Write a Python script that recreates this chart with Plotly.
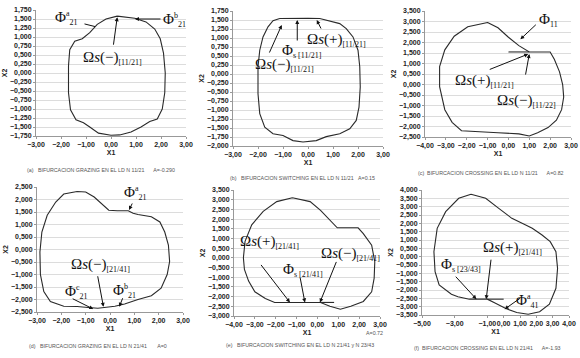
import plotly.graph_objects as go

W, H = 580, 358

# ---------------- data ----------------
a_x = [0.25, 0.6, 0.95, 1.4, 1.75, 1.97, 2.1, 2.17, 2.15, 2.05, 1.85, 1.55, 1.2, 0.8, 0.35, 0.0,
       -0.5, -0.85, -1.1, -1.4, -1.62, -1.7, -1.7, -1.65, -1.45, -1.15, -0.85, -0.55, -0.2, 0.25]
a_y = [1.58, 1.55, 1.52, 1.42, 1.22, 0.95, 0.55, 0.0, -0.55, -1.0, -1.28, -1.35, -1.5, -1.64, -1.72, -1.73,
       -1.67, -1.5, -1.38, -1.3, -1.02, -0.55, 0.2, 0.65, 0.88, 0.95, 1.12, 1.35, 1.5, 1.58]

b_x = [-1.13, -0.5, 0.0, 0.47, 0.87, 1.27, 1.53, 1.8, 2.0, 2.07, 2.09, 2.04, 1.93, 1.67, 1.27, 0.73,
       0.33, -0.2, -0.6, -1.0, -1.4, -1.73, -1.93, -2.0, -2.0, -1.93, -1.8, -1.6, -1.4, -1.13]
b_y = [1.54, 1.55, 1.55, 1.54, 1.48, 1.40, 1.26, 1.03, 0.66, 0.2, -0.36, -0.92, -1.29, -1.52, -1.66, -1.74,
       -1.85, -1.89, -1.85, -1.71, -1.66, -1.48, -1.1, -0.55, 0.2, 0.66, 1.03, 1.31, 1.48, 1.54]

c_x = [-1.0, -0.5, 0.0, 0.5, 1.0, 2.0, 2.2, 2.45, 2.6, 2.65, 2.55, 2.3, 1.9, 1.4, 1.0, 0.5, -0.5, -1.5,
       -2.25, -2.7, -3.05, -3.3, -3.3, -3.05, -2.6, -1.95, -1.0]
c_y = [2.95, 2.7, 2.25, 1.85, 1.55, 1.55, 1.2, 0.6, 0.0, -0.6, -1.2, -1.7, -2.05, -2.3, -2.45, -2.35, -2.3, -2.25,
       -2.2, -1.8, -1.2, -0.1, 0.85, 1.65, 2.3, 2.75, 2.95]
c_seg_x = [0.0, 1.0]
c_seg_y = [1.55, 1.55]

d_x = [-1.35, -1.0, -0.65, -0.3, -0.05, 0.3, 0.75, 0.95, 1.15, 1.7, 2.05, 2.25, 2.4, 2.45, 2.35, 2.1, 1.7,
       1.15, 0.6, 0.2, -0.25, -0.5, -0.9, -1.35, -1.9, -2.45, -2.72, -2.86, -2.88, -2.8, -2.58, -2.23, -1.9, -1.35]
d_y = [2.32, 2.3, 2.1, 1.77, 1.57, 1.55, 1.55, 1.45, 1.4, 1.31, 1.1, 0.7, 0.18, -0.48, -1.0, -1.55, -1.85,
       -2.0, -2.18, -2.27, -2.33, -2.35, -2.32, -2.28, -2.27, -2.08, -1.68, -1.0, -0.1, 0.7, 1.37, 1.9, 2.22, 2.32]

e_x = [-1.2, -0.35, 0.15, 0.6, 0.95, 1.95, 2.2, 2.6, 2.75, 2.72, 2.6, 2.2, 1.6, 1.1, 0.6, 0.15, -0.6, -1.3,
       -2.05, -2.5, -3.0, -3.3, -3.5, -3.55, -3.47, -3.15, -2.6, -1.95, -1.2]
e_y = [3.1, 2.9, 2.45, 1.95, 1.55, 1.55, 1.25, 0.65, -0.2, -1.05, -1.75, -2.25, -2.5, -2.65, -2.5, -2.3, -2.3, -2.3,
       -2.3, -2.1, -1.75, -1.2, -0.6, 0.0, 0.85, 1.7, 2.4, 2.9, 3.1]
e_seg_x = [0.15, 0.8]
e_seg_y = [-2.3, -2.3]

f_x = [-2.0, -1.1, -0.3, 0.5, 1.35, 1.75, 2.35, 2.85, 3.2, 3.3, 3.2, 2.8, 2.2, 1.5, 0.8, 0.1, -0.5, -1.0,
       -1.6, -2.1, -2.8, -3.2, -3.95, -4.2, -4.27, -4.07, -3.55, -2.75, -2.0]
f_y = [3.75, 3.5, 2.9, 2.3, 1.9, 1.7, 1.3, 0.9, 0.3, -0.7, -1.9, -2.85, -3.3, -3.45, -3.35, -3.1, -2.8, -2.55,
       -2.55, -2.55, -2.4, -2.25, -1.7, -0.9, 0.3, 1.7, 2.7, 3.5, 3.75]
f_seg_x = [-1.0, 0.0]
f_seg_y = [-2.55, -2.55]

x_ranges = {"a": [-3, 3], "b": [-3, 3], "c": [-4, 3], "d": [-3, 3], "e": [-4, 3], "f": [-5, 4]}
y_ranges = {"a": [-1.75, 1.75], "b": [-2.0, 1.75], "c": [-2.5, 3.5], "d": [-2.5, 2.5], "e": [-3.0, 3.5], "f": [-3.5, 4.0]}
x_tickvals = {
    "a": [-3, -2, -1, 0, 1, 2, 3], "b": [-3, -2, -1, 0, 1, 2, 3], "c": [-4, -3, -2, -1, 0, 1, 2, 3],
    "d": [-3, -2, -1, 0, 1, 2, 3], "e": [-4, -3, -2, -1, 0, 1, 2, 3], "f": [-5, -3, -1, 0, 1, 2, 3, 4],
}
y_dtick = {"a": 0.25, "b": 0.25, "c": 0.5, "d": 0.5, "e": 0.5, "f": 0.5}

captions = {
    "a": "(a)\u00a0\u00a0\u00a0BIFURCACION GRAZING EN EL LD N 11/21\u00a0\u00a0\u00a0\u00a0\u00a0\u00a0A=-0.290",
    "b": "(b)\u00a0\u00a0\u00a0BIFURCACION SWITCHING EN EL LD N 11/21\u00a0\u00a0\u00a0A=0.15",
    "c": "(c)\u00a0\u00a0BIFURCACION CROSSING EN EL LD N 11/21\u00a0\u00a0\u00a0\u00a0\u00a0\u00a0A=0.82",
    "d": "(d)\u00a0\u00a0\u00a0BIFURCACION GRAZING EN EL LD N 21/41\u00a0\u00a0\u00a0\u00a0\u00a0\u00a0\u00a0A=0",
    "e": "(e)\u00a0\u00a0\u00a0BIFURCACION SWITCHING EN EL LD N 21/41 y N 23/43",
    "f": "(f)\u00a0\u00a0BIFURCACION CROSSING EN EL LD N 21/41\u00a0\u00a0\u00a0\u00a0\u00a0\u00a0A=-1.93",
}

# ---------------- layout (pixel boxes) ----------------
boxes = {  # x0, x1, y0(top), y1(bottom) in pixels
    "a": (36, 186, 10, 136),
    "b": (233, 383, 11, 146),
    "c": (425, 571, 11, 137),
    "d": (37, 183, 187, 312),
    "e": (234, 380, 190, 316),
    "f": (422, 569, 190, 315),
}
caption_pos = {"a": (101, 170), "b": (302, 178), "c": (491, 173),
               "d": (98, 346), "e": (300, 345), "f": (487, 348)}

SUBF = 8


def om(sign, sub):
    return ("Ω<i>s</i>(%s)<sub><span style='font-size:%dpx'>%s</span></sub>" % (sign, SUBF, sub))


def phi(sup, sub):
    s = "Φ"
    if sup:
        s += "<sup><span style='font-size:%dpx'>%s</span></sup>" % (SUBF, sup)
    s += "<sub><span style='font-size:%dpx'>%s</span></sub>" % (SUBF, sub)
    return s


labels = {
    "a": [(phi("a", "21"), 66, 18), (phi("b", "21"), 174, 20), (om("−", "[11/21]"), 112, 58)],
    "b": [(phi(None, "s [11/21]"), 302, 51), (om("+", "[11/21]"), 336, 40), (om("−", "[11/21]"), 284, 65)],
    "c": [(phi(None, "11"), 548, 20), (om("+", "[11/21]"), 484, 81), (om("−", "[11/22]"), 526, 101)],
    "d": [(phi("a", "21"), 135, 193), (om("−", "[21/41]"), 100, 265), (phi("c", "21"), 76, 292),
          (phi("b", "21"), 124, 291)],
    "e": [(om("+", "[21/41]"), 269, 242), (om("−", "[21/41]"), 350, 254), (phi(None, "s [21/41]"), 303, 270)],
    "f": [(om("+", "[21/41]"), 512, 248), (phi(None, "s [23/43]"), 461, 265), (phi("a", "41"), 527, 301)],
}
# arrows: tip (data x, y), tail offset (px dx, dy), head style
arrows = {
    "a": [(0.25, 1.55, -4, 29, 2), (0.96, 1.5, 27, 0, 2), (-0.64, 1.29, -12, -3, 0)],
    "b": [(-0.43, 1.5, 0, 22, 2), (0.35, 1.5, 5, 10, 2), (-1.05, 1.36, -13, 29, 2)],
    "c": [(0.57, 2.15, 17, -16, 2), (0.95, 1.45, -40, 16, 2), (1.0, 1.45, -4, 22, 2)],
    "d": [(0.78, 1.58, 4, -8, 2), (-0.27, -2.29, -6, -32, 2), (-0.69, -2.38, -22, -11, 2), (0.38, -2.29, 4, -10, 2)],
    "e": [(-1.32, -2.3, -30, -39, 2), (-0.6, -2.3, -5, -26, 2), (0.12, -2.3, 17, -42, 2)],
    "f": [(-1.07, -2.55, 5, -41, 2), (-1.67, -2.55, -22, -24, 2), (0.06, -3.15, 17, -12, 2)],
}

curves = {
    "a": [(a_x, a_y)], "b": [(b_x, b_y)], "c": [(c_x, c_y), (c_seg_x, c_seg_y)],
    "d": [(d_x, d_y)], "e": [(e_x, e_y), (e_seg_x, e_seg_y)], "f": [(f_x, f_y), (f_seg_x, f_seg_y)],
}

fig = go.Figure()
layout = dict(
    width=W, height=H, margin=dict(l=0, r=0, t=0, b=0, autoexpand=False),
    paper_bgcolor="white", plot_bgcolor="white", showlegend=False,
    separators=",.", font=dict(family="Liberation Sans", size=7, color="#222"),
)
annotations = []

tickfont = dict(family="Liberation Sans", size=7, color="#222", weight="bold")
titlefont = dict(family="Liberation Sans", size=7, color="#222", weight="bold")
for i, key in enumerate(["a", "b", "c", "d", "e", "f"]):
    n = "" if i == 0 else str(i + 1)
    x0, x1, y0, y1 = boxes[key]
    xa = "xaxis" + n
    ya = "yaxis" + n
    layout[xa] = dict(
        domain=[x0 / W, x1 / W], anchor="y" + n, range=x_ranges[key], tickvals=x_tickvals[key],
        tickformat=".2f", tickangle=0, showgrid=False, zeroline=False, showline=True, linecolor="#999",
        linewidth=1, ticks="outside", ticklen=2, tickcolor="#999", tickfont=tickfont, automargin=False,
        title=dict(text="X1", font=titlefont, standoff=1),
    )
    layout[ya] = dict(
        domain=[1 - y1 / H, 1 - y0 / H], anchor="x" + n, range=y_ranges[key], dtick=y_dtick[key],
        tick0=0, tickformat=".3f", showgrid=True, gridcolor="#dcdcdc", gridwidth=1, zeroline=False,
        showline=True, linecolor="#999", linewidth=1, ticks="outside", ticklen=2, tickcolor="#999",
        tickfont=tickfont, automargin=False,
        title=dict(text="X2", font=titlefont, standoff=1),
    )
    for cx, cy in curves[key]:
        fig.add_trace(go.Scatter(x=cx, y=cy, mode="lines", xaxis="x" + n, yaxis="y" + n,
                                 line=dict(color="#2a2a2a", width=1.1), hoverinfo="skip"))
    for txt, px, py in labels[key]:
        annotations.append(dict(text=txt, x=px / W, y=1 - py / H, xref="paper", yref="paper",
                                xanchor="center", yanchor="middle", showarrow=False,
                                font=dict(family="Liberation Serif", size=15, color="#111")))
    for tx, ty, dx, dy, head in arrows[key]:
        annotations.append(dict(text="", x=tx, y=ty, xref="x" + n, yref="y" + n, ax=dx, ay=dy,
                                showarrow=True, arrowhead=head, arrowsize=0.8, arrowwidth=1,
                                arrowcolor="#111"))
    cxp, cyp = caption_pos[key]
    annotations.append(dict(text=captions[key], x=cxp / W, y=1 - cyp / H, xref="paper", yref="paper",
                            xanchor="center", yanchor="middle", showarrow=False,
                            font=dict(family="Liberation Sans", size=5.3, color="#555")))

annotations.append(dict(text="A=0.72", x=374 / W, y=1 - 333 / H, xref="paper", yref="paper",
                        xanchor="center", yanchor="middle", showarrow=False,
                        font=dict(family="Liberation Sans", size=5.3, color="#555")))

layout["annotations"] = annotations
fig.update_layout(**layout)
fig.write_html("out.html", config={"displayModeBar": False},
               post_script="document.body.style.margin='0px';document.body.style.padding='0px';")
